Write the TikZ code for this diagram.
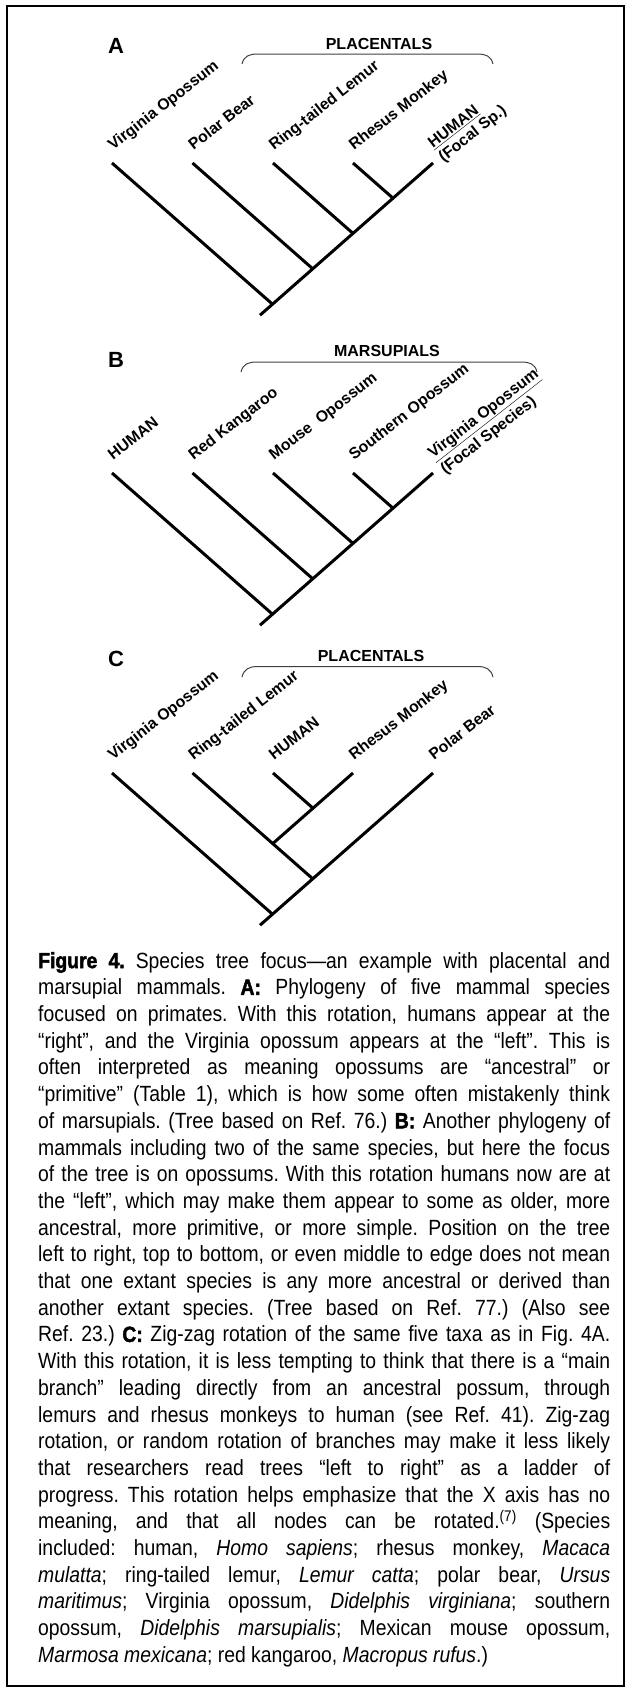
\documentclass[tikz,border=0pt]{standalone}
\usepackage{fontspec}
\setmainfont{Liberation Sans}
\newfontfamily\capfont{Liberation Sans}[Ligatures=TeX,FakeStretch=0.88,BoldFeatures={FakeBold=2}]
\usetikzlibrary{positioning,calc}
\tikzset{
    frame/.style={line width=2.5pt},
    branch/.style={line width=3pt},
    taxon/.style={font=\bfseries\fontsize{15.8}{19}\selectfont, rotate=38, anchor=base west, inner sep=0pt},
    panel label/.style={font=\bfseries\fontsize{22}{24}\selectfont, anchor=west, inner sep=0pt},
    clade label/.style={font=\bfseries\fontsize{16}{18}\selectfont, inner sep=0pt},
    clade brace/.style={line width=1pt, black!75},
    caption/.style={font={\capfont\fontsize{22}{26.7}\selectfont\frenchspacing\hyphenpenalty=10000\exhyphenpenalty=10000},
        text width=572pt, align=justify, inner sep=0pt, anchor=north west}
}

\begin{document}
\begin{tikzpicture}[x=1pt, y=-1pt]
    % --- Page and frame ---
    \useasboundingbox (0,0) rectangle (631,1690);
    \draw[frame] (7,6) rectangle (624,1686);

    % --- Tree A ---
    \node[panel label] (A-tag) at (108,46) {A};
    \node[clade label] (A-clade) at (379,43.5) {PLACENTALS};
    \draw[clade brace] (242,64) .. controls (244,56) and (249,54) .. (258,54) -- (477,54) .. controls (486,54) and (491,56) .. (493,64);

    \coordinate (A-virg) at (112,163);
    \coordinate (A-bear) at (192.5,163);
    \coordinate (A-lemur) at (273,163);
    \coordinate (A-rhesus) at (353,163);
    \coordinate (A-human) at (433,163);
    \coordinate (A-j4) at (393,198.2);
    \coordinate (A-j3) at (353,233.4);
    \coordinate (A-j2) at (312.75,268.8);
    \coordinate (A-j1) at (272.5,304.2);
    \coordinate (A-root) at (260,315.2);

    \draw[branch] (A-human) -- (A-root);
    \draw[branch] (A-virg) -- (A-j1);
    \draw[branch] (A-bear) -- (A-j2);
    \draw[branch] (A-lemur) -- (A-j3);
    \draw[branch] (A-rhesus) -- (A-j4);

    \node[taxon] (A-virg-lab) at ($(A-virg)+(1,-12)$) {Virginia Opossum};
    \node[taxon] (A-bear-lab) at ($(A-bear)+(1,-12)$) {Polar Bear};
    \node[taxon] (A-lemur-lab) at ($(A-lemur)+(1,-12)$) {Ring-tailed Lemur};
    \node[taxon] (A-rhesus-lab) at ($(A-rhesus)+(1,-12)$) {Rhesus Monkey};
    \node[taxon] (A-human-lab) at ($(A-human)+(0,-14)$) {\underline{HUMAN}};
    \node[taxon, anchor=north west] (A-human-note) at ($(A-human-lab.south west)!3pt!-90:(A-human-lab.south east)$) {(Focal Sp.)};

    % --- Tree B ---
    \begin{scope}[shift={(0,310)}]
    \node[panel label] (B-tag) at (108,50) {B};
    \node[clade label] (B-clade) at (387,41) {MARSUPIALS};
    \draw[clade brace] (241,62) .. controls (243,54) and (248,52) .. (257,52) -- (521,52) .. controls (530,52) and (535,54) .. (537,62);

    \coordinate (B-human) at (112,163);
    \coordinate (B-kang) at (192.5,163);
    \coordinate (B-mouse) at (273,163);
    \coordinate (B-south) at (353,163);
    \coordinate (B-virg) at (433,163);
    \coordinate (B-j4) at (393,198.2);
    \coordinate (B-j3) at (353,233.4);
    \coordinate (B-j2) at (312.75,268.8);
    \coordinate (B-j1) at (272.5,304.2);
    \coordinate (B-root) at (260,315.2);

    \draw[branch] (B-virg) -- (B-root);
    \draw[branch] (B-human) -- (B-j1);
    \draw[branch] (B-kang) -- (B-j2);
    \draw[branch] (B-mouse) -- (B-j3);
    \draw[branch] (B-south) -- (B-j4);

    \node[taxon] (B-human-lab) at ($(B-human)+(1,-12)$) {HUMAN};
    \node[taxon] (B-kang-lab) at ($(B-kang)+(1,-12)$) {Red Kangaroo};
    \node[taxon] (B-mouse-lab) at ($(B-mouse)+(1,-12)$) {Mouse\ \ Opossum};
    \node[taxon] (B-south-lab) at ($(B-south)+(1,-12)$) {Southern Opossum};
    \node[taxon] (B-virg-lab) at ($(B-virg)+(0,-14)$) {\underline{Virginia Opossum}};
    \node[taxon, anchor=north west] (B-virg-note) at ($(B-virg-lab.south west)!3pt!-90:(B-virg-lab.south east)$) {(Focal Species)};
    \end{scope}

    % --- Tree C ---
    \begin{scope}[shift={(0,610)}]
    \node[panel label] (C-tag) at (108,49) {C};
    \node[clade label] (C-clade) at (371,45.5) {PLACENTALS};
    \draw[clade brace] (242,67) .. controls (244,59) and (249,56.5) .. (258,56.5) -- (477,56.5) .. controls (486,56.5) and (491,59) .. (493,67);

    \coordinate (C-virg) at (112,163);
    \coordinate (C-lemur) at (192.5,163);
    \coordinate (C-human) at (273,163);
    \coordinate (C-rhesus) at (353,163);
    \coordinate (C-bear) at (433,163);
    \coordinate (C-j4) at (313,198.2);
    \coordinate (C-j3) at (272.75,233.6);
    \coordinate (C-j2) at (312.75,268.8);
    \coordinate (C-j1) at (272.5,304.2);
    \coordinate (C-root) at (260,315.2);

    \draw[branch] (C-bear) -- (C-root);
    \draw[branch] (C-virg) -- (C-j1);
    \draw[branch] (C-lemur) -- (C-j2);
    \draw[branch] (C-rhesus) -- (C-j3);
    \draw[branch] (C-human) -- (C-j4);

    \node[taxon] (C-virg-lab) at ($(C-virg)+(1,-12)$) {Virginia Opossum};
    \node[taxon] (C-lemur-lab) at ($(C-lemur)+(1,-12)$) {Ring-tailed Lemur};
    \node[taxon] (C-human-lab) at ($(C-human)+(1,-12)$) {HUMAN};
    \node[taxon] (C-rhesus-lab) at ($(C-rhesus)+(1,-12)$) {Rhesus Monkey};
    \node[taxon] (C-bear-lab) at ($(C-bear)+(1,-12)$) {Polar Bear};
    \end{scope}

    % --- Caption ---
    \node[caption] (legend) at (38,952) {\textbf{Figure 4.}\enspace Species tree focus---an example with placental and\linebreak
marsupial mammals. \textbf{A:} Phylogeny of five mammal species\linebreak
focused on primates. With this rotation, humans appear at the\linebreak
``right'', and the Virginia opossum appears at the ``left''. This is\linebreak
often interpreted as meaning opossums are ``ancestral'' or\linebreak
``primitive'' (Table 1), which is how some often mistakenly think\linebreak
of marsupials. (Tree based on Ref. 76.) \textbf{B:} Another phylogeny of\linebreak
mammals including two of the same species, but here the focus\linebreak
of the tree is on opossums. With this rotation humans now are at\linebreak
the ``left'', which may make them appear to some as older, more\linebreak
ancestral, more primitive, or more simple. Position on the tree\linebreak
left to right, top to bottom, or even middle to edge does not mean\linebreak
that one extant species is any more ancestral or derived than\linebreak
another extant species. (Tree based on Ref. 77.) (Also see\linebreak
Ref. 23.) \textbf{C:} Zig-zag rotation of the same five taxa as in Fig. 4A.\linebreak
With this rotation, it is less tempting to think that there is a ``main\linebreak
branch'' leading directly from an ancestral possum, through\linebreak
lemurs and rhesus monkeys to human (see Ref. 41). Zig-zag\linebreak
rotation, or random rotation of branches may make it less likely\linebreak
that researchers read trees ``left to right'' as a ladder of\linebreak
progress. This rotation helps emphasize that the X axis has no\linebreak
meaning, and that all nodes can be rotated.\textsuperscript{(7)} (Species\linebreak
included: human, \textit{Homo sapiens}; rhesus monkey, \textit{Macaca}\linebreak
\textit{mulatta}; ring-tailed lemur, \textit{Lemur catta}; polar bear, \textit{Ursus}\linebreak
\textit{maritimus}; Virginia opossum, \textit{Didelphis virginiana}; southern\linebreak
opossum, \textit{Didelphis marsupialis}; Mexican mouse opossum,\linebreak
\textit{Marmosa mexicana}; red kangaroo, \textit{Macropus rufus}.)};
\end{tikzpicture}
\end{document}
